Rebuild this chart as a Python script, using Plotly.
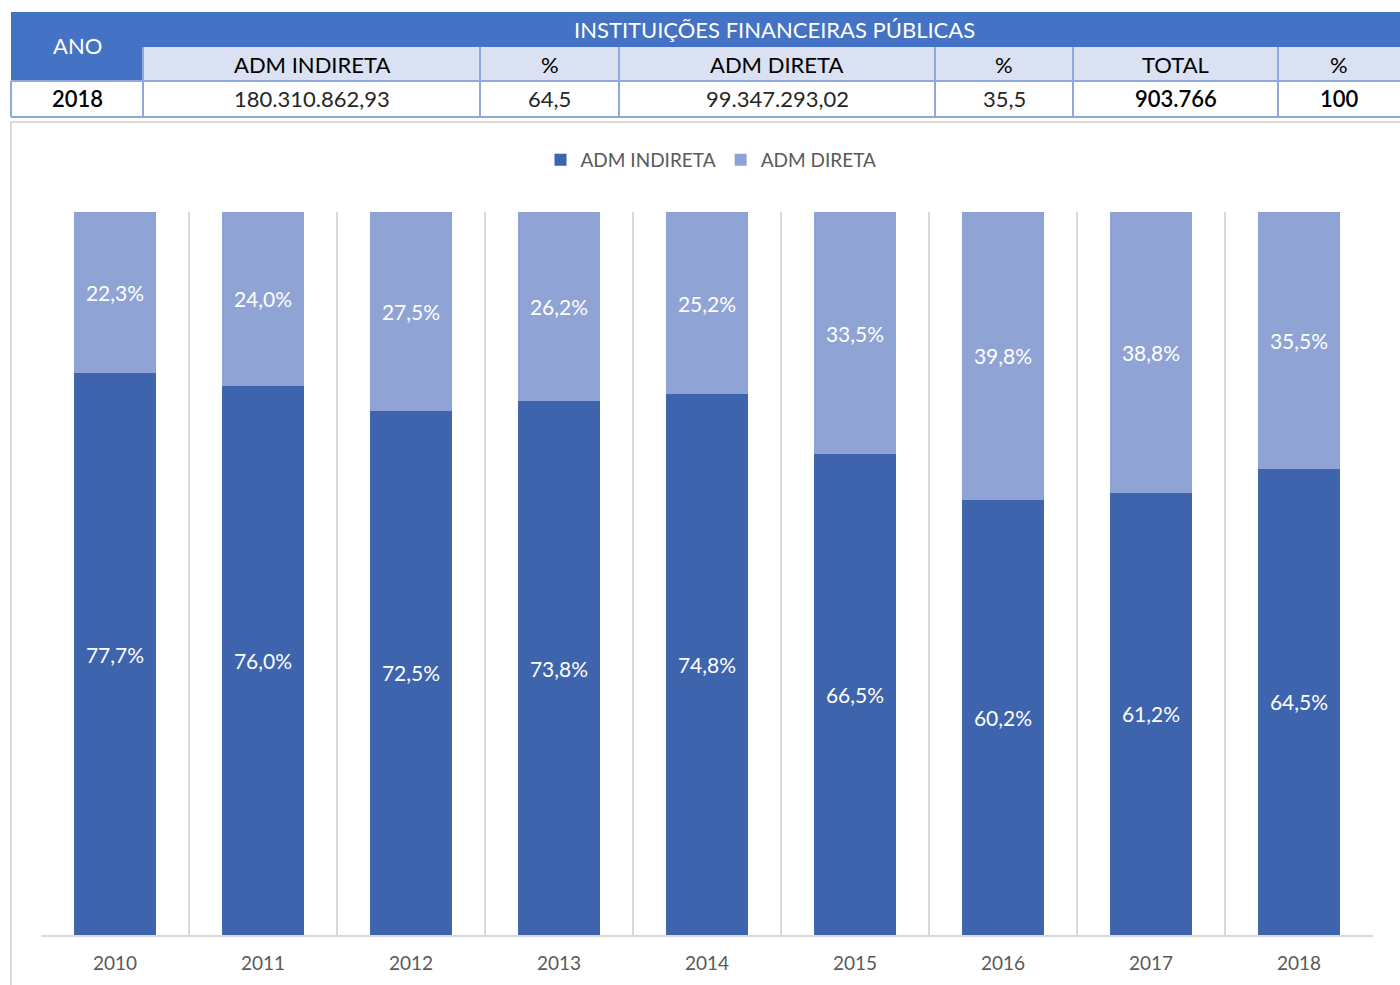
import plotly.graph_objects as go

# ---------------- data ----------------
years = ["2010", "2011", "2012", "2013", "2014", "2015", "2016", "2017", "2018"]
adm_indireta = [77.7, 76.0, 72.5, 73.8, 74.8, 66.5, 60.2, 61.2, 64.5]
adm_direta = [22.3, 24.0, 27.5, 26.2, 25.2, 33.5, 39.8, 38.8, 35.5]

title_text = "2010 a 2018"
table_group_title = "INSTITUIÇÕES FINANCEIRAS PÚBLICAS"
table_first_col = "ANO"
table_headers = ["ADM INDIRETA", "%", "ADM DIRETA", "%", "TOTAL", "%"]
table_row = ["2018", "180.310.862,93", "64,5", "99.347.293,02", "35,5", "903.766", "100"]
table_row_bold = [True, False, False, False, False, True, True]

# ---------------- layout helpers ----------------
W, H = 1400, 985
L, R, T, B = 41, 1373, 212, 935  # plot area in pixels


def px(x):
    return (x - L) / (R - L)


def py(y):
    return (B - y) / (B - T)


def fmt(v):
    return f"{v:.1f}".replace(".", ",") + "%"


FONT = "Lato, 'Open Sans', sans-serif"
DARK = "#3D64AD"
LIGHT = "#8FA3D4"
TBL_BLUE = "#4472C4"
TBL_LIGHT = "#D9E1F2"
TBL_BORDER = "#8EA9DB"
GRID = "#D9D9D9"

fig = go.Figure()
fig.add_trace(go.Bar(
    x=years, y=adm_indireta, name="ADM INDIRETA",
    marker=dict(color=DARK, line=dict(width=0)),
    text=[fmt(v) for v in adm_indireta], textposition="inside",
    insidetextanchor="middle", textangle=0,
    textfont=dict(color="white", size=21, family=FONT),
))
fig.add_trace(go.Bar(
    x=years, y=adm_direta, name="ADM DIRETA",
    marker=dict(color=LIGHT, line=dict(width=0)),
    text=[fmt(v) for v in adm_direta], textposition="inside",
    insidetextanchor="middle", textangle=0,
    textfont=dict(color="white", size=21, family=FONT),
))

shapes = []
annotations = []

# chart outer border
shapes.append(dict(type="rect", xref="paper", yref="paper",
                   x0=px(11), x1=px(1420), y0=py(122), y1=py(1000),
                   line=dict(color=GRID, width=2), fillcolor="rgba(0,0,0,0)", layer="below"))

# table geometry
col_x = [11, 143, 480, 619, 935, 1073, 1278, 1400]
y_r1, y_r2, y_r3, y_r4 = 12, 47, 81, 117

# blue header background
shapes.append(dict(type="rect", xref="paper", yref="paper",
                   x0=px(11), x1=px(1410), y0=py(y_r1), y1=py(y_r2),
                   line=dict(width=0), fillcolor=TBL_BLUE))
shapes.append(dict(type="rect", xref="paper", yref="paper",
                   x0=px(11), x1=px(143), y0=py(y_r1), y1=py(y_r3),
                   line=dict(width=0), fillcolor=TBL_BLUE))
# light header row
shapes.append(dict(type="rect", xref="paper", yref="paper",
                   x0=px(143), x1=px(1410), y0=py(y_r2), y1=py(y_r3),
                   line=dict(width=0), fillcolor=TBL_LIGHT))
# horizontal borders
for yy in (y_r3, y_r4):
    shapes.append(dict(type="line", xref="paper", yref="paper",
                       x0=px(11), x1=px(1410), y0=py(yy), y1=py(yy),
                       line=dict(color=TBL_BORDER, width=2)))
# vertical borders
for xx in col_x[1:-1]:
    shapes.append(dict(type="line", xref="paper", yref="paper",
                       x0=px(xx), x1=px(xx), y0=py(y_r2), y1=py(y_r4),
                       line=dict(color=TBL_BORDER, width=2)))
shapes.append(dict(type="line", xref="paper", yref="paper",
                   x0=px(11), x1=px(11), y0=py(y_r3), y1=py(y_r4),
                   line=dict(color=TBL_BORDER, width=2)))


def cell_text(x, y, text, color, weight=400, size=22):
    annotations.append(dict(xref="paper", yref="paper", x=px(x), y=py(y),
                            xanchor="center", yanchor="middle",
                            text=text, showarrow=False,
                            font=dict(family=FONT, size=size, color=color, weight=weight)))


cell_text(77, 46, table_first_col, "white")
cell_text(774, 29.5, table_group_title, "white")
for i, h in enumerate(table_headers):
    cx = (col_x[i + 1] + col_x[i + 2]) / 2
    cell_text(cx, 64, h, "black")
for i, v in enumerate(table_row):
    cx = (col_x[i] + col_x[i + 1]) / 2
    bold = table_row_bold[i]
    cell_text(cx, 99, v, "black" if bold else "#262626", 600 if bold else 400)

# cut-off title at the very top (only its lower edge is visible, as in the source)
annotations.append(dict(xref="paper", yref="paper", x=px(10), y=py(5),
                        xanchor="left", yanchor="bottom", text=title_text,
                        showarrow=False,
                        font=dict(family=FONT, size=24, color="black", weight=600)))

fig.update_layout(
    width=W, height=H,
    margin=dict(l=L, r=W - R, t=T, b=H - B, pad=0, autoexpand=False),
    paper_bgcolor="white", plot_bgcolor="white",
    barmode="stack", bargap=0.44,
    font=dict(family=FONT, color="#595959"),
    showlegend=True,
    legend=dict(orientation="h", x=px(711), y=py(160), xanchor="center", yanchor="middle",
                font=dict(size=19, color="#595959", family=FONT),
                traceorder="normal", itemwidth=30, bgcolor="rgba(0,0,0,0)"),
    shapes=shapes,
    annotations=annotations,
    uniformtext=dict(mode="show", minsize=21),
)
fig.update_xaxes(
    type="category", tickson="boundaries", showgrid=True, gridcolor=GRID, gridwidth=2,
    showline=True, linecolor=GRID, linewidth=2, ticks="", ticklen=0,
    tickfont=dict(size=19, color="#595959", family=FONT),
    ticklabelstandoff=10, zeroline=False, automargin=False,
)
fig.update_yaxes(range=[0, 100], visible=False, showgrid=False, zeroline=False, automargin=False)

fig.write_html("out.html",
               config={"displayModeBar": False},
               post_script="document.body.style.margin='0';document.body.style.overflow='hidden';")
